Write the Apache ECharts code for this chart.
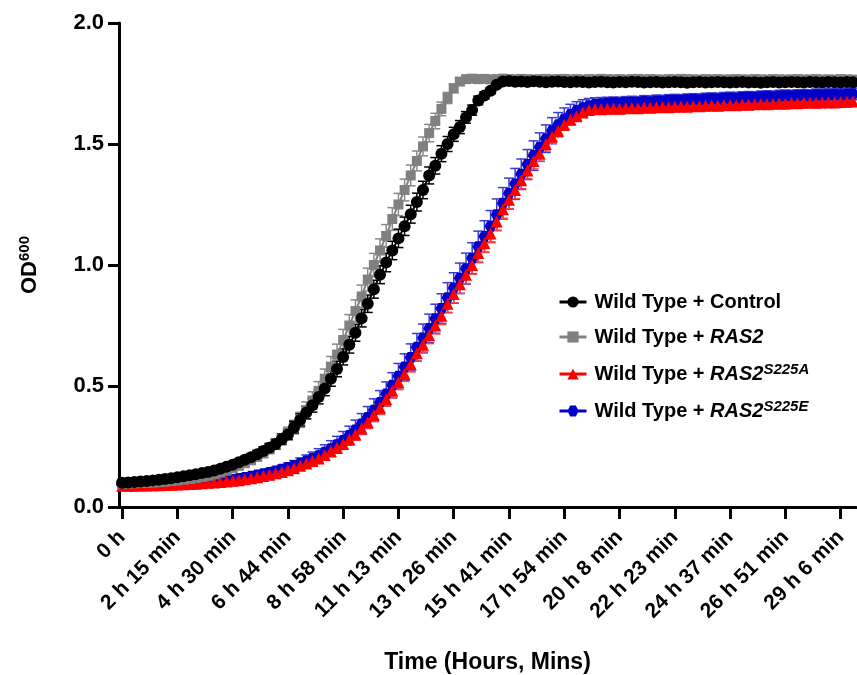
<!DOCTYPE html>
<html>
<head>
<meta charset="utf-8">
<script src="https://cdn.jsdelivr.net/npm/echarts@6/dist/echarts.min.js"></script>
<style>
  html, body { margin: 0; padding: 0; background: #fff; }
  #chart { width: 857px; height: 675px; }
</style>
</head>
<body>
<div id="chart"></div>
<script>
// tick labels, one every 9 readings
var tickLabels = ['0 h', '2 h 15 min', '4 h 30 min', '6 h 44 min', '8 h 58 min', '11 h 13 min', '13 h 26 min',
  '15 h 41 min', '17 h 54 min', '20 h 8 min', '22 h 23 min', '24 h 37 min', '26 h 51 min', '29 h 6 min'];

// Wild Type + Control
var control = [
  0.100, 0.101, 0.103, 0.105, 0.107, 0.110, 0.113, 0.116, 0.119, 0.123,
  0.127, 0.131, 0.135, 0.140, 0.145, 0.151, 0.158, 0.166, 0.175, 0.185,
  0.195, 0.206, 0.218, 0.231, 0.245, 0.260, 0.280, 0.300, 0.330, 0.360,
  0.390, 0.420, 0.455, 0.490, 0.530, 0.570, 0.620, 0.670, 0.720, 0.780,
  0.840, 0.900, 0.960, 1.010, 1.060, 1.110, 1.160, 1.210, 1.260, 1.310,
  1.370, 1.410, 1.460, 1.500, 1.540, 1.570, 1.610, 1.640, 1.680, 1.700,
  1.720, 1.745, 1.758, 1.760, 1.757, 1.758, 1.756, 1.759, 1.757, 1.755,
  1.757, 1.758, 1.756, 1.755, 1.757, 1.756, 1.754, 1.756, 1.757, 1.755,
  1.754, 1.756, 1.755, 1.757, 1.756, 1.754, 1.755, 1.756, 1.754, 1.755,
  1.756, 1.755, 1.753, 1.755, 1.756, 1.754, 1.755, 1.756, 1.755, 1.754,
  1.755, 1.756, 1.754, 1.755, 1.753, 1.755, 1.756, 1.754, 1.755, 1.756,
  1.755, 1.754, 1.756, 1.755, 1.754, 1.756, 1.755, 1.754, 1.756, 1.755
];
var controlErr = [
  0.004, 0.004, 0.004, 0.005, 0.005, 0.005, 0.005, 0.006, 0.006, 0.006,
  0.007, 0.007, 0.008, 0.008, 0.009, 0.010, 0.010, 0.011, 0.012, 0.013,
  0.014, 0.015, 0.016, 0.017, 0.018, 0.020, 0.021, 0.022, 0.024, 0.025,
  0.026, 0.028, 0.029, 0.030, 0.031, 0.032, 0.033, 0.034, 0.035, 0.036,
  0.036, 0.037, 0.037, 0.038, 0.038, 0.038, 0.038, 0.037, 0.037, 0.036,
  0.035, 0.034, 0.033, 0.031, 0.029, 0.027, 0.024, 0.021, 0.018, 0.015,
  0.012, 0.010, 0.009, 0.008, 0.008, 0.008, 0.008, 0.008, 0.008, 0.008,
  0.008, 0.008, 0.008, 0.008, 0.008, 0.008, 0.008, 0.008, 0.008, 0.008,
  0.008, 0.008, 0.008, 0.008, 0.008, 0.008, 0.008, 0.008, 0.008, 0.008,
  0.008, 0.008, 0.008, 0.008, 0.008, 0.008, 0.008, 0.008, 0.008, 0.008,
  0.008, 0.008, 0.008, 0.008, 0.008, 0.008, 0.008, 0.008, 0.008, 0.008,
  0.008, 0.008, 0.008, 0.008, 0.008, 0.008, 0.008, 0.008, 0.008, 0.008
];

// Wild Type + RAS2
var ras2 = [
  0.097, 0.097, 0.098, 0.099, 0.100, 0.101, 0.103, 0.105, 0.107, 0.110,
  0.113, 0.116, 0.120, 0.124, 0.129, 0.135, 0.142, 0.150, 0.160, 0.170,
  0.181, 0.193, 0.207, 0.222, 0.240, 0.259, 0.280, 0.305, 0.330, 0.360,
  0.400, 0.440, 0.480, 0.530, 0.580, 0.630, 0.690, 0.750, 0.810, 0.870,
  0.940, 1.000, 1.060, 1.120, 1.190, 1.250, 1.310, 1.370, 1.430, 1.490,
  1.545, 1.595, 1.645, 1.690, 1.730, 1.758, 1.768, 1.770, 1.768, 1.769,
  1.767, 1.768, 1.770, 1.768, 1.767, 1.769, 1.768, 1.766, 1.768, 1.769,
  1.767, 1.768, 1.769, 1.767, 1.768, 1.766, 1.768, 1.767, 1.769, 1.768,
  1.767, 1.768, 1.766, 1.768, 1.769, 1.767, 1.768, 1.767, 1.766, 1.768,
  1.767, 1.769, 1.768, 1.767, 1.766, 1.768, 1.767, 1.768, 1.766, 1.767,
  1.768, 1.767, 1.766, 1.768, 1.767, 1.766, 1.768, 1.767, 1.766, 1.767,
  1.768, 1.766, 1.767, 1.768, 1.766, 1.767, 1.766, 1.768, 1.767, 1.766
];
var ras2Err = [
  0.003, 0.003, 0.003, 0.004, 0.004, 0.004, 0.004, 0.005, 0.005, 0.005,
  0.006, 0.006, 0.007, 0.007, 0.008, 0.009, 0.010, 0.011, 0.012, 0.013,
  0.014, 0.015, 0.017, 0.018, 0.020, 0.021, 0.023, 0.025, 0.028, 0.031,
  0.034, 0.036, 0.038, 0.040, 0.042, 0.043, 0.044, 0.045, 0.046, 0.047,
  0.047, 0.048, 0.048, 0.047, 0.047, 0.046, 0.045, 0.043, 0.041, 0.039,
  0.036, 0.032, 0.028, 0.023, 0.018, 0.014, 0.011, 0.010, 0.010, 0.010,
  0.010, 0.010, 0.010, 0.010, 0.010, 0.010, 0.010, 0.010, 0.010, 0.010,
  0.010, 0.010, 0.010, 0.010, 0.010, 0.010, 0.010, 0.010, 0.010, 0.010,
  0.010, 0.010, 0.010, 0.010, 0.010, 0.010, 0.010, 0.010, 0.010, 0.010,
  0.010, 0.010, 0.010, 0.010, 0.010, 0.010, 0.010, 0.010, 0.010, 0.010,
  0.010, 0.010, 0.010, 0.010, 0.010, 0.010, 0.010, 0.010, 0.010, 0.010,
  0.010, 0.010, 0.010, 0.010, 0.010, 0.010, 0.010, 0.010, 0.010, 0.010
];

// Wild Type + RAS2 S225A
var s225a = [
  0.088, 0.088, 0.088, 0.089, 0.089, 0.090, 0.090, 0.091, 0.092, 0.093,
  0.094, 0.095, 0.096, 0.098, 0.100, 0.101, 0.103, 0.105, 0.108, 0.111,
  0.115, 0.119, 0.123, 0.128, 0.133, 0.139, 0.145, 0.152, 0.160, 0.170,
  0.180, 0.190, 0.200, 0.215, 0.230, 0.245, 0.260, 0.280, 0.300, 0.325,
  0.350, 0.380, 0.410, 0.445, 0.480, 0.515, 0.550, 0.590, 0.635, 0.670,
  0.710, 0.750, 0.790, 0.840, 0.880, 0.920, 0.960, 1.000, 1.050, 1.090,
  1.130, 1.180, 1.230, 1.270, 1.310, 1.350, 1.390, 1.430, 1.460, 1.500,
  1.530, 1.555, 1.580, 1.600, 1.615, 1.630, 1.640, 1.645, 1.644, 1.646,
  1.647, 1.646, 1.648, 1.649, 1.648, 1.651, 1.650, 1.652, 1.653, 1.652,
  1.654, 1.655, 1.654, 1.657, 1.656, 1.658, 1.659, 1.658, 1.660, 1.661,
  1.660, 1.663, 1.662, 1.664, 1.665, 1.664, 1.666, 1.667, 1.666, 1.669,
  1.668, 1.670, 1.671, 1.670, 1.672, 1.673, 1.672, 1.674, 1.675, 1.676
];
var s225aErr = [
  0.003, 0.003, 0.003, 0.003, 0.003, 0.003, 0.004, 0.004, 0.004, 0.004,
  0.004, 0.004, 0.005, 0.005, 0.005, 0.005, 0.006, 0.006, 0.006, 0.007,
  0.007, 0.008, 0.008, 0.009, 0.009, 0.010, 0.011, 0.012, 0.013, 0.014,
  0.015, 0.016, 0.017, 0.018, 0.019, 0.020, 0.021, 0.022, 0.023, 0.024,
  0.025, 0.026, 0.027, 0.028, 0.029, 0.030, 0.031, 0.032, 0.033, 0.034,
  0.035, 0.035, 0.036, 0.036, 0.037, 0.037, 0.037, 0.038, 0.038, 0.038,
  0.038, 0.038, 0.037, 0.037, 0.036, 0.035, 0.034, 0.033, 0.031, 0.029,
  0.027, 0.024, 0.022, 0.020, 0.018, 0.016, 0.015, 0.015, 0.015, 0.015,
  0.015, 0.015, 0.015, 0.015, 0.015, 0.015, 0.015, 0.015, 0.015, 0.015,
  0.015, 0.015, 0.015, 0.015, 0.015, 0.015, 0.015, 0.015, 0.015, 0.015,
  0.015, 0.015, 0.015, 0.015, 0.015, 0.015, 0.015, 0.015, 0.015, 0.015,
  0.015, 0.015, 0.015, 0.015, 0.015, 0.015, 0.015, 0.015, 0.015, 0.015
];

// Wild Type + RAS2 S225E
var s225e = [
  0.092, 0.092, 0.092, 0.093, 0.093, 0.094, 0.094, 0.095, 0.096, 0.097,
  0.098, 0.099, 0.100, 0.102, 0.104, 0.106, 0.108, 0.111, 0.114, 0.118,
  0.122, 0.127, 0.132, 0.137, 0.143, 0.149, 0.156, 0.163, 0.171, 0.180,
  0.190, 0.200, 0.212, 0.226, 0.241, 0.257, 0.275, 0.295, 0.318, 0.343,
  0.370, 0.400, 0.432, 0.467, 0.503, 0.540, 0.578, 0.618, 0.660, 0.698,
  0.738, 0.778, 0.820, 0.865, 0.905, 0.945, 0.985, 1.028, 1.075, 1.118,
  1.160, 1.208, 1.255, 1.295, 1.335, 1.375, 1.415, 1.452, 1.487, 1.522,
  1.555, 1.580, 1.603, 1.622, 1.638, 1.650, 1.658, 1.663, 1.666, 1.668,
  1.670, 1.669, 1.672, 1.673, 1.672, 1.676, 1.675, 1.678, 1.677, 1.680,
  1.681, 1.680, 1.683, 1.684, 1.683, 1.686, 1.687, 1.686, 1.689, 1.690,
  1.689, 1.692, 1.693, 1.692, 1.695, 1.696, 1.695, 1.698, 1.699, 1.698,
  1.700, 1.701, 1.700, 1.703, 1.702, 1.704, 1.705, 1.704, 1.706, 1.707
];
var s225eErr = [
  0.003, 0.003, 0.003, 0.003, 0.004, 0.004, 0.004, 0.004, 0.005, 0.005,
  0.005, 0.006, 0.006, 0.006, 0.007, 0.007, 0.008, 0.008, 0.009, 0.010,
  0.011, 0.012, 0.013, 0.014, 0.015, 0.016, 0.017, 0.019, 0.021, 0.023,
  0.025, 0.027, 0.029, 0.031, 0.033, 0.035, 0.037, 0.039, 0.041, 0.043,
  0.045, 0.047, 0.049, 0.050, 0.052, 0.053, 0.055, 0.056, 0.057, 0.058,
  0.059, 0.060, 0.061, 0.062, 0.063, 0.063, 0.064, 0.064, 0.065, 0.065,
  0.065, 0.065, 0.065, 0.064, 0.064, 0.063, 0.062, 0.061, 0.059, 0.057,
  0.054, 0.050, 0.046, 0.042, 0.037, 0.033, 0.030, 0.028, 0.026, 0.025,
  0.024, 0.024, 0.024, 0.024, 0.024, 0.024, 0.024, 0.024, 0.024, 0.024,
  0.024, 0.024, 0.024, 0.024, 0.024, 0.024, 0.024, 0.024, 0.024, 0.024,
  0.024, 0.024, 0.024, 0.024, 0.024, 0.024, 0.024, 0.024, 0.024, 0.024,
  0.024, 0.024, 0.024, 0.024, 0.024, 0.024, 0.024, 0.024, 0.024, 0.024
];

var readings = [];
for (var i = 0; i < control.length; i++) readings.push(String(i));

var FONT = '"Liberation Sans", Arial, sans-serif';
var hexagon = 'path://M-1,0 L-0.5,-0.866 L0.5,-0.866 L1,0 L0.5,0.866 L-0.5,0.866 Z';

function errData(vals, errs) {
  return vals.map(function (v, k) { return [k, v - errs[k], v + errs[k]]; });
}

function errRender(color) {
  return function (params, api) {
    var x = api.value(0);
    var top = api.coord([x, api.value(2)]);
    var bot = api.coord([x, api.value(1)]);
    var w = 5;
    var st = { stroke: color, lineWidth: 1.5 };
    return {
      type: 'group',
      children: [
        { type: 'line', shape: { x1: top[0], y1: top[1], x2: bot[0], y2: bot[1] }, style: st },
        { type: 'line', shape: { x1: top[0] - w, y1: top[1], x2: top[0] + w, y2: top[1] }, style: st },
        { type: 'line', shape: { x1: bot[0] - w, y1: bot[1], x2: bot[0] + w, y2: bot[1] }, style: st }
      ]
    };
  };
}

function errSeries(vals, errs, color) {
  return {
    type: 'custom',
    renderItem: errRender(color),
    encode: { x: 0, y: [1, 2] },
    data: errData(vals, errs),
    silent: true
  };
}

function lineSeries(name, vals, color, symbol, size) {
  return {
    name: name,
    type: 'line',
    data: vals,
    symbol: symbol,
    symbolSize: size,
    showAllSymbol: true,
    itemStyle: { color: color },
    lineStyle: { color: color, width: 2 },
    silent: true
  };
}

var names = ['Wild Type + Control', 'Wild Type + RAS2', 'Wild Type + RAS2 S225A', 'Wild Type + RAS2 S225E'];
var legendText = {
  'Wild Type + Control': '{g|}{n|Wild Type + Control}',
  'Wild Type + RAS2': '{g|}{n|Wild Type + }{i|RAS2}',
  'Wild Type + RAS2 S225A': '{g|}{n|Wild Type + }{i|RAS2}{s|S225A}',
  'Wild Type + RAS2 S225E': '{g|}{n|Wild Type + }{i|RAS2}{s|S225E}'
};
var legendRich = {
  g: { width: 3 },
  n: { fontFamily: FONT, fontWeight: 'bold', fontSize: 20, color: '#000', lineHeight: 24 },
  i: { fontFamily: FONT, fontWeight: 'bold', fontStyle: 'italic', fontSize: 20, color: '#000', lineHeight: 24 },
  s: { fontFamily: FONT, fontWeight: 'bold', fontStyle: 'italic', fontSize: 15, color: '#000', lineHeight: 15, verticalAlign: 'top' }
};
function legendAt(name, top) {
  return {
    data: [name],
    left: 553,
    top: top,
    orient: 'vertical',
    itemWidth: 27,
    itemHeight: 14,
    selectedMode: false,
    lineStyle: { width: 3 },
    formatter: function (n) { return legendText[n]; },
    textStyle: { rich: legendRich }
  };
}

var myChart = echarts.init(document.getElementById('chart'));
var option = {
  animation: false,
  backgroundColor: '#fff',
  grid: { left: 119, right: 1, top: 23, bottom: 168, outerBoundsMode: 'none' },
  legend: [
    legendAt(names[0], 287),
    legendAt(names[1], 322),
    legendAt(names[2], 357),
    legendAt(names[3], 394)
  ],
  xAxis: {
    type: 'category',
    data: readings,
    boundaryGap: true,
    name: 'Time (Hours, Mins)',
    nameLocation: 'middle',
    nameGap: 144,
    nameTextStyle: { fontFamily: FONT, fontWeight: 'bold', fontSize: 23, color: '#000' },
    axisLine: { lineStyle: { color: '#000', width: 3 } },
    axisTick: {
      show: true,
      alignWithLabel: true,
      interval: 8,
      length: 12,
      lineStyle: { color: '#000', width: 3 }
    },
    axisLabel: {
      interval: 8,
      formatter: function (v, idx) { return tickLabels[idx / 9]; },
      rotate: 45,
      margin: 27,
      fontFamily: FONT,
      fontWeight: 'bold',
      fontSize: 21,
      color: '#000'
    },
    splitLine: { show: false }
  },
  yAxis: {
    type: 'value',
    min: 0,
    max: 2,
    interval: 0.5,
    name: '{n|OD}{s|600}',
    nameLocation: 'middle',
    nameGap: 76,
    nameRotate: 90,
    nameTextStyle: {
      rich: {
        n: { fontFamily: FONT, fontWeight: 'bold', fontSize: 22, color: '#000', lineHeight: 26 },
        s: { fontFamily: FONT, fontWeight: 'bold', fontSize: 15, color: '#000', lineHeight: 15, verticalAlign: 'top' }
      }
    },
    axisLine: { show: true, lineStyle: { color: '#000', width: 3 } },
    axisTick: { show: true, length: 11, lineStyle: { color: '#000', width: 3 } },
    axisLabel: {
      formatter: function (v) { return v.toFixed(1); },
      margin: 15,
      fontFamily: FONT,
      fontWeight: 'bold',
      fontSize: 22,
      color: '#000'
    },
    splitLine: { show: false }
  },
  series: [
    errSeries(s225e, s225eErr, '#3a3ad6'),
    lineSeries(names[3], s225e, '#0000c8', hexagon, [12, 11]),
    errSeries(s225a, s225aErr, '#ff4040'),
    lineSeries(names[2], s225a, '#ff0000', 'triangle', 12),
    errSeries(ras2, ras2Err, '#8a8a8a'),
    lineSeries(names[1], ras2, '#808080', 'rect', 10),
    errSeries(control, controlErr, '#000000'),
    lineSeries(names[0], control, '#000000', 'circle', 12)
  ]
};
myChart.setOption(option);
</script>
</body>
</html>
